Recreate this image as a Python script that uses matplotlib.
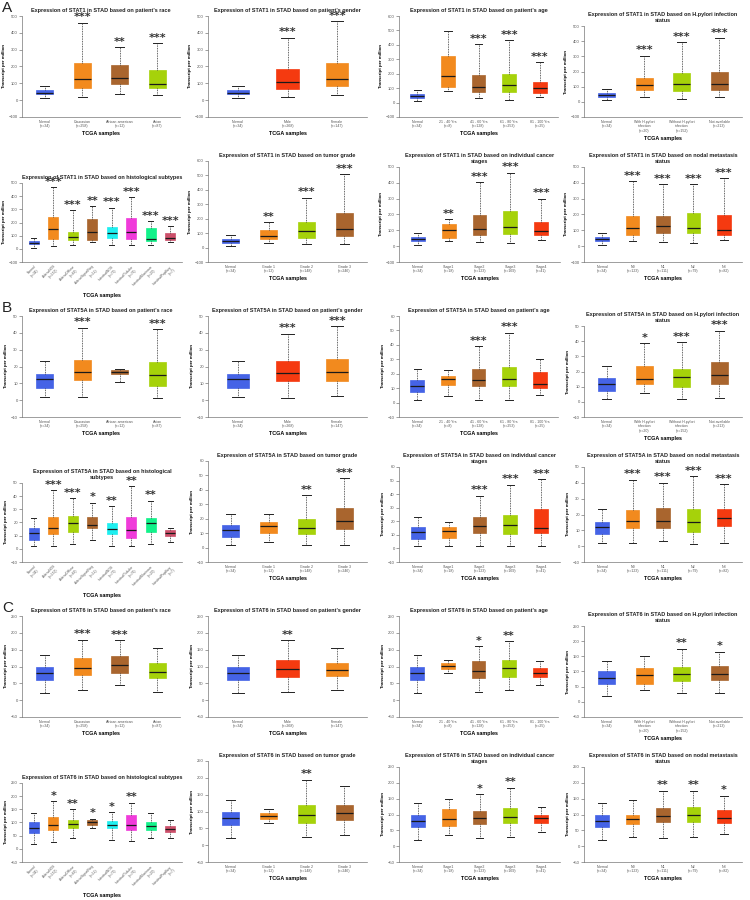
import matplotlib.pyplot as plt

plt.rcParams["font.family"] = ["Liberation Sans", "DejaVu Sans"]

# ---------- colours ----------
BLUE = "#4563E6"
ORANGE = "#F28A1E"
BROWN = "#A9652E"
LIME = "#A6D20A"
RED = "#F53A10"
CYAN = "#1EEFF0"
MAGENTA = "#F03BDA"
GREEN = "#12F28A"
ROSE = "#CC4F6A"

# ---------- categories ----------
race_labels = ["Normal\n(n=34)", "Caucasian\n(n=258)", "African-american\n(n=12)", "Asian\n(n=87)"]
gender_labels = ["Normal\n(n=34)", "Male\n(n=268)", "Female\n(n=147)"]
age_labels = ["Normal\n(n=34)", "21 - 40 Yrs\n(n=8)", "41 - 60 Yrs\n(n=128)",
              "61 - 80 Yrs\n(n=253)", "81 - 100 Yrs\n(n=25)"]
hp_labels = ["Normal\n(n=34)", "With H.pylori\ninfection\n(n=20)",
             "Without H.pylori\ninfection\n(n=152)", "Not available\n(n=213)"]
hist_labels = ["Normal\n(n=34)", "AdenoNOS\n(n=152)", "AdenoDiffuse\n(n=69)",
               "AdenoSignetRing\n(n=12)", "IntestinalNOS\n(n=73)", "IntestinalTubular\n(n=76)",
               "IntestinalMucinous\n(n=20)", "IntestinalPapillary\n(n=7)"]
grade_labels = ["Normal\n(n=34)", "Grade 1\n(n=12)", "Grade 2\n(n=148)", "Grade 3\n(n=246)"]
stage_labels = ["Normal\n(n=34)", "Stage1\n(n=18)", "Stage2\n(n=123)", "Stage3\n(n=169)", "Stage4\n(n=41)"]
nodal_labels = ["Normal\n(n=34)", "N0\n(n=123)", "N1\n(n=111)", "N2\n(n=79)", "N3\n(n=82)"]

race_colors = [BLUE, ORANGE, BROWN, LIME]
gender_colors = [BLUE, RED, ORANGE]
age_colors = [BLUE, ORANGE, BROWN, LIME, RED]
hp_colors = [BLUE, ORANGE, LIME, BROWN]
hist_colors = [BLUE, ORANGE, LIME, BROWN, CYAN, MAGENTA, GREEN, ROSE]
grade_colors = [BLUE, ORANGE, LIME, BROWN]
stage_colors = [BLUE, ORANGE, BROWN, LIME, RED]
nodal_colors = [BLUE, ORANGE, BROWN, LIME, RED]

# ---------- box stats (low whisker, q1, median, q3, high whisker) ----------
# STAT1
stat1_race = [(10, 35, 45, 60, 85), (20, 75, 125, 220, 460), (35, 95, 130, 210, 315), (30, 70, 95, 178, 340)]
stat1_race_sig = ["", "***", "**", "***"]
stat1_gender = [(10, 35, 45, 60, 85), (20, 68, 110, 185, 370), (28, 85, 128, 220, 470)]
stat1_gender_sig = ["", "***", "***"]
stat1_age = [(10, 35, 45, 60, 85), (80, 105, 185, 320, 495), (30, 75, 105, 188, 405),
             (20, 70, 122, 198, 432), (40, 68, 100, 145, 280)]
stat1_age_sig = ["", "", "***", "***", "***"]
stat1_hp = [(10, 35, 45, 60, 85), (30, 78, 108, 155, 305), (20, 72, 120, 188, 392), (30, 78, 120, 195, 418)]
stat1_hp_sig = ["", "***", "***", "***"]
stat1_hist = [(10, 35, 45, 60, 82), (22, 78, 148, 245, 470), (28, 68, 90, 130, 295), (55, 70, 128, 225, 322),
              (30, 85, 118, 168, 312), (30, 78, 128, 232, 390), (32, 62, 78, 160, 212), (55, 70, 82, 122, 172)]
stat1_hist_sig = ["", "***", "***", "**", "***", "***", "***", "***"]
stat1_grade = [(10, 35, 45, 60, 85), (35, 60, 80, 120, 175), (28, 68, 115, 175, 345), (22, 80, 130, 240, 510)]
stat1_grade_sig = ["", "**", "***", "***"]
stat1_stage = [(10, 35, 45, 60, 85), (35, 50, 100, 140, 172), (25, 72, 108, 195, 405),
               (20, 78, 120, 220, 465), (38, 68, 95, 150, 300)]
stat1_stage_sig = ["", "**", "***", "***", "***"]
stat1_nodal = [(10, 35, 45, 60, 85), (30, 68, 112, 190, 412), (25, 80, 125, 190, 390),
               (20, 80, 112, 208, 390), (38, 70, 102, 195, 430)]
stat1_nodal_sig = ["", "***", "***", "***", "***"]

# STAT5A
stat5a_race = [(2, 7.5, 12.3, 15.5, 23.5), (2, 11.8, 17, 23.8, 43), (10.5, 15.5, 16.5, 18, 18.5),
               (1.5, 8.5, 14.8, 22.8, 42)]
stat5a_race_sig = ["", "***", "", "***"]
stat5a_gender = [(2, 7.5, 12.3, 15.5, 23.5), (1.5, 11.5, 16.2, 23, 39.5), (2.2, 11.5, 17, 24.5, 44)]
stat5a_gender_sig = ["", "***", "***"]
stat5a_age = [(2, 7, 11.8, 15.3, 23.5), (4.5, 12.3, 16, 18.7, 22.8), (1.5, 11.5, 15.8, 23, 39),
              (2, 11.5, 16.5, 24.8, 48.5), (5, 9.8, 13, 21.5, 30)]
stat5a_age_sig = ["", "", "***", "***", ""]
stat5a_hp = [(2, 7.3, 12, 15.5, 23.3), (5.5, 11.5, 14.8, 23.3, 38.8), (1.8, 10, 16.2, 21.8, 39.3),
             (2.2, 11.8, 17.5, 26.2, 47)]
stat5a_hp_sig = ["", "*", "***", "***"]
stat5a_hist = [(2, 7, 12, 15.5, 23.5), (2, 11.5, 16, 24, 44.5), (4, 12.5, 19.3, 25, 38.5),
               (6.5, 15.5, 17.8, 24, 35), (2, 11, 15, 19.5, 32.5), (2, 8, 14.5, 24.5, 47.5),
               (3.5, 12.5, 19.3, 23.5, 36.5), (5, 9.5, 12, 14, 16)]
stat5a_hist_sig = ["", "***", "***", "*", "**", "**", "**", ""]
stat5a_grade = [(2, 7, 12, 15.5, 23.5), (4, 10, 15, 18, 23.5), (2, 9.3, 13.8, 19.5, 36.5),
                (2, 12.8, 18.5, 27.2, 48)]
stat5a_grade_sig = ["", "", "**", "***"]
stat5a_stage = [(2, 7, 12.3, 15.8, 23.5), (2, 7.8, 13, 15.5, 19.5), (2, 11.5, 16.8, 23, 38.8),
                (2, 11, 17.5, 25, 47), (1.5, 11.5, 15.3, 28.8, 51)]
stat5a_stage_sig = ["", "", "***", "***", "***"]
stat5a_nodal = [(2, 7.5, 12, 15.3, 23.3), (2, 11.5, 16.2, 23, 42), (3.2, 11.5, 15.8, 24, 40.2),
                (1.5, 9.2, 15, 23.5, 44.3), (2, 12.5, 17.5, 23.5, 39)]
stat5a_nodal_sig = ["", "***", "***", "***", "***"]

# STAT6
stat6_race = [(20, 60, 80, 100, 135), (30, 75, 95, 125, 180), (45, 80, 105, 132, 178), (25, 65, 85, 110, 155)]
stat6_race_sig = ["", "***", "***", ""]
stat6_gender = [(20, 60, 80, 100, 135), (25, 70, 92, 120, 178), (30, 72, 90, 110, 155)]
stat6_gender_sig = ["", "**", ""]
stat6_age = [(20, 60, 80, 100, 135), (80, 92, 102, 110, 118), (25, 65, 88, 115, 160),
             (30, 70, 95, 120, 175), (45, 68, 80, 95, 115)]
stat6_age_sig = ["", "", "*", "**", ""]
stat6_hp = [(20, 60, 80, 100, 135), (40, 60, 88, 112, 150), (30, 70, 92, 115, 175), (30, 72, 92, 118, 165)]
stat6_hp_sig = ["", "", "**", "*"]
stat6_hist = [(20, 60, 80, 100, 135), (25, 70, 92, 120, 180), (40, 78, 95, 110, 150), (80, 90, 100, 110, 115),
              (35, 80, 92, 105, 140), (30, 70, 90, 130, 175), (40, 70, 85, 100, 135), (40, 65, 75, 88, 110)]
stat6_hist_sig = ["", "*", "**", "*", "*", "**", "", ""]
stat6_grade = [(20, 60, 80, 100, 135), (65, 78, 88, 95, 108), (25, 65, 90, 118, 195), (30, 75, 95, 120, 175)]
stat6_grade_sig = ["", "", "**", ""]
stat6_stage = [(20, 60, 80, 100, 135), (35, 65, 85, 118, 150), (25, 70, 88, 110, 165),
               (30, 72, 92, 120, 185), (45, 72, 88, 100, 125)]
stat6_stage_sig = ["", "", "*", "**", ""]
stat6_nodal = [(20, 60, 80, 100, 135), (30, 70, 85, 100, 145), (25, 75, 95, 120, 175),
               (30, 75, 100, 125, 175), (40, 72, 90, 115, 160)]
stat6_nodal_sig = ["", "", "**", "**", "*"]

W, H = 750, 900
fig = plt.figure(figsize=(7.5, 9), dpi=100)


def draw_panel(box, gene, about, labels, colors, stats, sig, ymin, ymax, ystep, rotate=False):
    # box = (left, top, right, bottom) in pixel
    l, t, r, b = box
    ax = fig.add_axes([l / W, 1 - b / H, (r - l) / W, (b - t) / H])
    bxp_stats = []
    for lab, s in zip(labels, stats):
        bxp_stats.append(dict(whislo=s[0], q1=s[1], med=s[2], q3=s[3], whishi=s[4], fliers=[], label=lab))
    width = 0.5 if len(labels) > 5 else 0.45
    res = ax.bxp(bxp_stats, widths=width, patch_artist=True, showfliers=False,
                 capwidths=width * 0.55,
                 medianprops=dict(color="#1a1a1a", lw=0.9),
                 whiskerprops=dict(color="#333333", lw=0.6, linestyle=(0, (1, 1))),
                 capprops=dict(color="#222222", lw=0.7))
    for patch, c in zip(res["boxes"], colors):
        patch.set_facecolor(c)
        patch.set_edgecolor(c)
        patch.set_linewidth(0.5)
    for i, (s, star) in enumerate(zip(stats, sig)):
        if star:
            ax.text(i + 1, s[4] + (ymax - ymin) * 0.004, star, ha="center", va="bottom",
                    fontsize=8, fontweight="bold", color="#333333", family="DejaVu Sans")
    ax.set_ylim(ymin, ymax)
    ax.set_yticks(list(range(ymin, ymax + 1, ystep)))
    ax.set_xlim(0.4, len(labels) + 0.6)
    for side in ["top", "right"]:
        ax.spines[side].set_visible(False)
    for side in ["left", "bottom"]:
        ax.spines[side].set_color("#777777")
        ax.spines[side].set_linewidth(0.5)
    ax.tick_params(axis="y", labelsize=3, colors="#555555", length=2, width=0.4, pad=1)
    ax.tick_params(axis="x", labelsize=2.6, colors="#555555", length=0, pad=2)
    if rotate:
        plt.setp(ax.get_xticklabels(), rotation=45, ha="right", rotation_mode="anchor", fontsize=2.3)
    ax.set_ylabel("Transcript per million", fontsize=3.2, fontweight="bold", labelpad=2)
    ax.set_xlabel("TCGA samples", fontsize=3.9, fontweight="bold", labelpad=2)
    ax.set_title(f"Expression of {gene} in STAD based on {about}", fontsize=4.0,
                 fontweight="bold", color="#222222", pad=3, linespacing=1.1)
    return ax


def gene_block(dy, gene, d, ylims, hist_two_line):
    draw_panel((22, dy + 16, 180, dy + 117), gene, "patient's race", race_labels, race_colors,
               d["race"], d["race_sig"], *ylims["race"])
    draw_panel((208, dy + 16, 367, dy + 117), gene, "patient's gender", gender_labels, gender_colors,
               d["gender"], d["gender_sig"], *ylims["gender"])
    draw_panel((399, dy + 16, 558, dy + 117), gene, "patient's age", age_labels, age_colors,
               d["age"], d["age_sig"], *ylims["age"])
    draw_panel((584, dy + 26, 742, dy + 117), gene, "H.pylori infection\nstatus", hp_labels, hp_colors,
               d["hp"], d["hp_sig"], *ylims["hp"])
    hist_title = "histological\nsubtypes" if hist_two_line else "histological subtypes"
    draw_panel((22, dy + 183, 182, dy + 262), gene, hist_title, hist_labels, hist_colors,
               d["hist"], d["hist_sig"], *ylims["hist"], rotate=True)
    draw_panel((208, dy + 161, 367, dy + 262), gene, "tumor grade", grade_labels, grade_colors,
               d["grade"], d["grade_sig"], *ylims["grade"])
    draw_panel((399, dy + 167, 560, dy + 262), gene, "individual cancer\nstages", stage_labels, stage_colors,
               d["stage"], d["stage_sig"], *ylims["stage"])
    draw_panel((584, dy + 167, 742, dy + 262), gene, "nodal metastasis\nstatus", nodal_labels, nodal_colors,
               d["nodal"], d["nodal_sig"], *ylims["nodal"])


stat1 = dict(race=stat1_race, race_sig=stat1_race_sig, gender=stat1_gender, gender_sig=stat1_gender_sig,
             age=stat1_age, age_sig=stat1_age_sig, hp=stat1_hp, hp_sig=stat1_hp_sig,
             hist=stat1_hist, hist_sig=stat1_hist_sig, grade=stat1_grade, grade_sig=stat1_grade_sig,
             stage=stat1_stage, stage_sig=stat1_stage_sig, nodal=stat1_nodal, nodal_sig=stat1_nodal_sig)
stat5a = dict(race=stat5a_race, race_sig=stat5a_race_sig, gender=stat5a_gender, gender_sig=stat5a_gender_sig,
              age=stat5a_age, age_sig=stat5a_age_sig, hp=stat5a_hp, hp_sig=stat5a_hp_sig,
              hist=stat5a_hist, hist_sig=stat5a_hist_sig, grade=stat5a_grade, grade_sig=stat5a_grade_sig,
              stage=stat5a_stage, stage_sig=stat5a_stage_sig, nodal=stat5a_nodal, nodal_sig=stat5a_nodal_sig)
stat6 = dict(race=stat6_race, race_sig=stat6_race_sig, gender=stat6_gender, gender_sig=stat6_gender_sig,
             age=stat6_age, age_sig=stat6_age_sig, hp=stat6_hp, hp_sig=stat6_hp_sig,
             hist=stat6_hist, hist_sig=stat6_hist_sig, grade=stat6_grade, grade_sig=stat6_grade_sig,
             stage=stat6_stage, stage_sig=stat6_stage_sig, nodal=stat6_nodal, nodal_sig=stat6_nodal_sig)

lim1 = dict(race=(-100, 500, 100), gender=(-100, 500, 100), age=(-100, 600, 100), hp=(-100, 500, 100),
            hist=(-100, 500, 100), grade=(-100, 600, 100), stage=(-100, 500, 100), nodal=(-100, 500, 100))
lim5 = dict(race=(-10, 50, 10), gender=(-10, 50, 10), age=(-10, 60, 10), hp=(-10, 50, 10),
            hist=(-10, 50, 10), grade=(-10, 60, 10), stage=(-10, 60, 10), nodal=(-10, 50, 10))
lim6 = dict(race=(-50, 250, 50), gender=(-50, 250, 50), age=(-50, 250, 50), hp=(-50, 250, 50),
            hist=(-50, 250, 50), grade=(-50, 250, 50), stage=(-50, 250, 50), nodal=(-50, 250, 50))

gene_block(0, "STAT1", stat1, lim1, False)
gene_block(300, "STAT5A", stat5a, lim5, True)
gene_block(600, "STAT6", stat6, lim6, False)

for letter, y in [("A", 0), ("B", 300), ("C", 600)]:
    fig.text(2 / W, 1 - (y + 1) / H, letter, fontsize=11, va="top", ha="left", color="#222222")

fig.savefig("out.png", dpi=100, facecolor="white")
